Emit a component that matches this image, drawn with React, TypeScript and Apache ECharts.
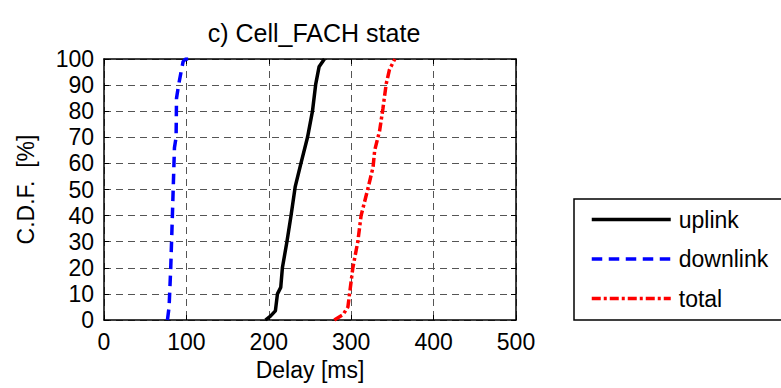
import React, { useEffect, useRef } from "react";
import * as echarts from "echarts";

const titleText = "c) Cell_FACH state";
const xAxisName = "Delay [ms]";
const yAxisName = "C.D.F.  [%]";
const xTicks = [0, 100, 200, 300, 400, 500];
const yTicks = [0, 10, 20, 30, 40, 50, 60, 70, 80, 90, 100];

const uplinkDelay = [196, 202, 208, 210.5, 214.5, 216.5, 222, 227, 232, 239, 247, 253, 257, 261, 267.5];
const uplinkCdf = [0, 1.5, 3.5, 10, 12.5, 20, 30, 40, 51, 60, 70, 80, 90.5, 97, 100];

const downlinkDelay = [77, 79, 81, 83, 85.5, 87.5, 88, 90.5, 93.5, 96, 99, 108];
const downlinkCdf = [0, 5, 20, 40, 66, 70, 85, 90, 95, 99, 100, 100];

const totalDelay = [279.5, 290, 296, 298, 302, 308, 312, 320, 326.5, 328.5, 334.5, 338.5, 342.5, 346.5, 353];
const totalCdf = [0, 2, 5, 10, 20, 30, 40, 50, 58.5, 65, 72.5, 81, 90.5, 96, 100];

const seriesNames = ["uplink", "downlink", "total"];

const pairs = (xs: number[], ys: number[]) => xs.map((x, i) => [x, ys[i]]);

const FONT = "'Liberation Sans', Arial, Helvetica, sans-serif";

export default function App() {
  const ref = useRef<HTMLDivElement>(null);
  useEffect(() => {
    if (!ref.current) return;
    const chart = echarts.init(ref.current, undefined, { renderer: "svg" });
    const axisLine = { show: true, onZero: false, lineStyle: { color: "#000", width: 1.5 } };
    const tick = { show: true, inside: true, length: 5, lineStyle: { color: "#000", width: 1 } };
    const split = { show: true, lineStyle: { color: "#555", width: 1, type: [7, 5] as any } };
    const label = { color: "#000", fontSize: 23, fontFamily: FONT };
    chart.setOption({
      animation: false,
      backgroundColor: "#fff",
      title: {
        text: titleText,
        left: 309,
        textAlign: "center",
        top: 15,
        textStyle: { color: "#000", fontSize: 25, fontWeight: "normal", fontFamily: FONT },
      },
      graphic: [
        {
          type: "rect",
          z: 0,
          shape: { x: 574, y: 199, width: 260, height: 121 },
          style: { fill: "#fff", stroke: "#000", lineWidth: 1.5 },
        },
      ],
      grid: { left: 104, top: 59, width: 412, height: 261, containLabel: false },
      legend: {
        orient: "vertical",
        left: 574,
        top: 199,
        z: 10,
        data: seriesNames,
        itemWidth: 79,
        itemHeight: 22,
        itemGap: 16.5,
        padding: [9, 10, 12, 16],
        borderWidth: 0,
        itemStyle: { opacity: 0, borderWidth: 0 },
        lineStyle: { width: 3.5 },
        textStyle: { color: "#000", fontSize: 23, fontFamily: FONT, padding: [0, 0, 0, 3] },
      },
      xAxis: [
        {
          type: "value",
          position: "bottom",
          min: 0,
          max: 500,
          interval: 100,
          name: xAxisName,
          nameLocation: "middle",
          nameGap: 38,
          nameTextStyle: { color: "#000", fontSize: 23, fontFamily: FONT },
          axisLine,
          axisTick: tick,
          axisLabel: { ...label, margin: 10, customValues: xTicks } as any,
          splitLine: split,
        },
        {
          type: "value",
          position: "top",
          min: 0,
          max: 500,
          interval: 100,
          axisLine,
          axisTick: tick,
          axisLabel: { show: false },
          splitLine: { show: false },
        },
      ],
      yAxis: [
        {
          type: "value",
          position: "left",
          min: 0,
          max: 100,
          interval: 10,
          name: yAxisName,
          nameLocation: "middle",
          nameGap: 67,
          nameTextStyle: { color: "#000", fontSize: 23, fontFamily: FONT },
          axisLine,
          axisTick: tick,
          axisLabel: { ...label, margin: 10, customValues: yTicks } as any,
          splitLine: split,
        },
        {
          type: "value",
          position: "right",
          min: 0,
          max: 100,
          interval: 10,
          axisLine,
          axisTick: tick,
          axisLabel: { show: false },
          splitLine: { show: false },
        },
      ],
      series: [
        {
          name: seriesNames[0],
          type: "line",
          data: pairs(uplinkDelay, uplinkCdf),
          symbol: "none",
          showSymbol: false,
          color: "#000",
          lineStyle: { color: "#000", width: 3.5, type: "solid" },
          z: 5,
        },
        {
          name: seriesNames[1],
          type: "line",
          data: pairs(downlinkDelay, downlinkCdf),
          symbol: "none",
          showSymbol: false,
          color: "#0000ff",
          lineStyle: { color: "#0000ff", width: 3.5, type: [10.5, 6.5] },
          z: 5,
        },
        {
          name: seriesNames[2],
          type: "line",
          data: pairs(totalDelay, totalCdf),
          symbol: "none",
          showSymbol: false,
          color: "#ff0000",
          lineStyle: { color: "#ff0000", width: 3.5, type: [9, 3, 3, 3] },
          z: 5,
        },
      ],
    });
    return () => chart.dispose();
  }, []);
  return (
    <div
      ref={ref}
      style={{ position: "fixed", left: 0, top: 0, width: 781, height: 388, background: "#fff" }}
    />
  );
}
